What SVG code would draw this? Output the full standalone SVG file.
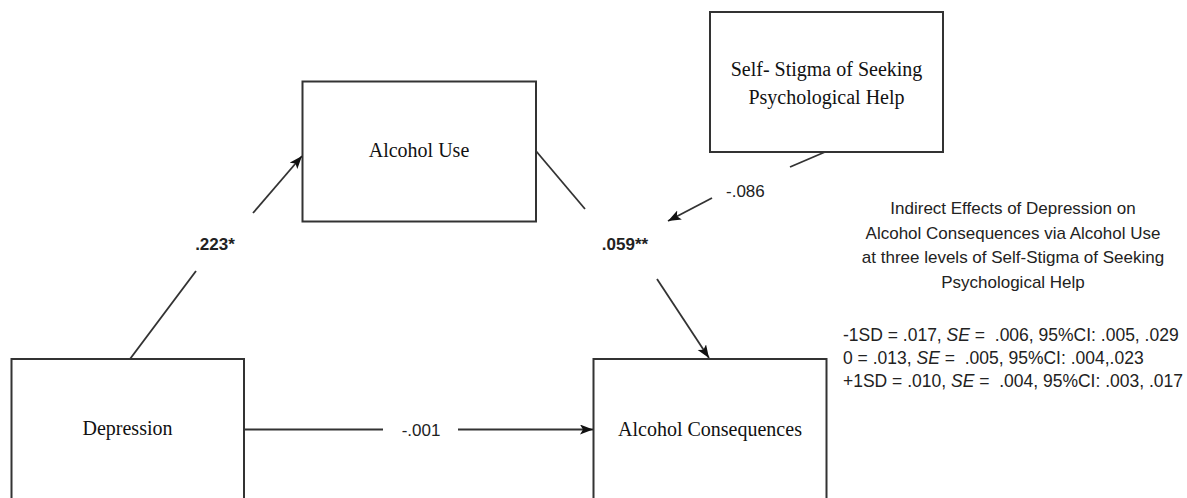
<svg xmlns="http://www.w3.org/2000/svg" width="1187" height="498" viewBox="0 0 1187 498">
<style>
.box{fill:#fff;stroke:#333;stroke-width:2}
.nt{font-family:"Liberation Serif","Times New Roman",serif;font-size:20px;fill:#111;text-anchor:middle}
.ln{stroke:#333;stroke-width:1.8;fill:none}
.lb{font-family:"Liberation Sans",Arial,sans-serif;font-size:17px;fill:#222}
.bd{font-weight:bold;text-anchor:middle}
.hd{font-family:"Liberation Sans",Arial,sans-serif;font-size:17px;fill:#222;text-anchor:middle}
.dt{font-family:"Liberation Sans",Arial,sans-serif;font-size:17.5px;fill:#222;white-space:pre}
</style>
<defs>
<marker id="ah" markerUnits="userSpaceOnUse" markerWidth="14" markerHeight="12" refX="13" refY="5" orient="auto">
<path d="M0,0 L13,5 L0,10 L3,5 z" fill="#111"/>
</marker>
</defs>
<rect width="1187" height="498" fill="#fff"/>
<g id="node-alcohol-use">
<rect class="box" x="302.5" y="81.5" width="233.5" height="140"/>
<text class="nt" x="419" y="157">Alcohol Use</text>
</g>
<g id="node-self-stigma">
<rect class="box" x="710" y="12" width="233" height="140"/>
<text class="nt" x="826.5" y="76">Self- Stigma of Seeking</text>
<text class="nt" x="826.5" y="104">Psychological Help</text>
</g>
<g id="node-depression">
<rect class="box" x="11.5" y="359" width="232.5" height="150"/>
<text class="nt" x="127.5" y="435">Depression</text>
</g>
<g id="node-alcohol-consequences">
<rect class="box" x="593.5" y="359" width="233" height="150"/>
<text class="nt" x="710" y="436">Alcohol Consequences</text>
</g>
<g id="connectors">
<line class="ln" x1="130" y1="359" x2="196" y2="271"/>
<line class="ln" x1="253" y1="213" x2="302" y2="156" marker-end="url(#ah)"/>
<text class="lb bd" x="215" y="250">.223*</text>
<line class="ln" x1="536" y1="151" x2="585" y2="209"/>
<text class="lb bd" x="625" y="250">.059**</text>
<line class="ln" x1="657" y1="279" x2="709" y2="358" marker-end="url(#ah)"/>
<line class="ln" x1="825" y1="152" x2="790" y2="167"/>
<text class="lb" x="726" y="197">-.086</text>
<line class="ln" x1="712" y1="198" x2="668" y2="221" marker-end="url(#ah)"/>
<line class="ln" x1="244" y1="429.5" x2="383" y2="429.5"/>
<text class="lb" x="421" y="436" text-anchor="middle">-.001</text>
<line class="ln" x1="458" y1="429.5" x2="593" y2="429.5" marker-end="url(#ah)"/>
</g>
<g id="indirect-effects">
<text class="hd" x="1013" y="214">Indirect Effects of Depression on</text>
<text class="hd" x="1013" y="239">Alcohol Consequences via Alcohol Use</text>
<text class="hd" x="1013" y="263">at three levels of Self-Stigma of Seeking</text>
<text class="hd" x="1013" y="288">Psychological Help</text>
<text class="dt" x="843" y="341">-1SD = .017, <tspan font-style="italic">SE</tspan> =  .006, 95%CI: .005, .029</text>
<text class="dt" x="843" y="364">0 = .013, <tspan font-style="italic">SE</tspan> =  .005, 95%CI: .004,.023</text>
<text class="dt" x="843" y="387">+1SD = .010, <tspan font-style="italic">SE</tspan> =  .004, 95%CI: .003, .017</text>
</g>
</svg>
